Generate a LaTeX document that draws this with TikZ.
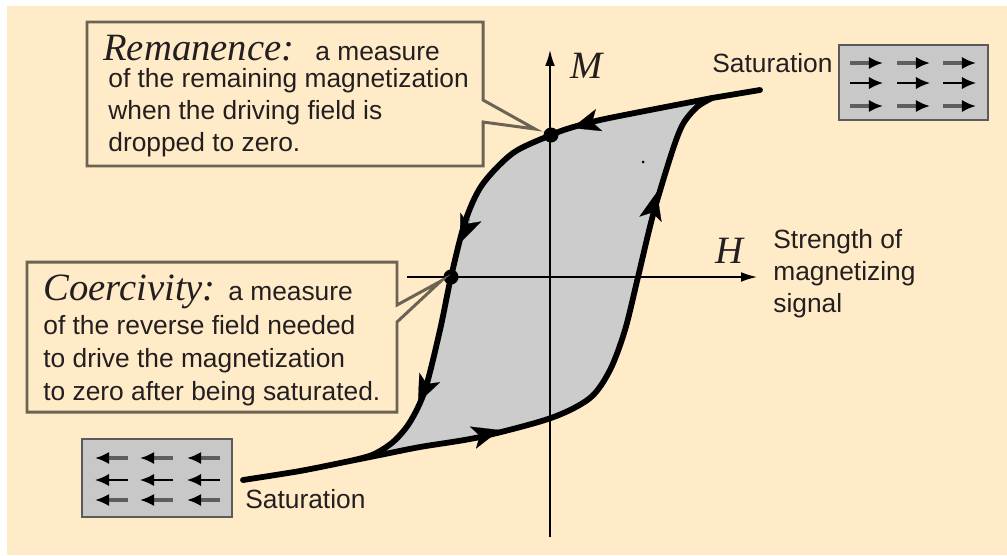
\documentclass[tikz,border=0pt]{standalone}
\usepackage{fontspec}
\setmainfont{Liberation Serif}
\setsansfont{Liberation Sans}
\definecolor{bgcream}{HTML}{FFEBC8}
\definecolor{boxline}{HTML}{6B6354}
\definecolor{loopgray}{HTML}{CCCCCC}
\definecolor{satfill}{HTML}{C8C8C8}
\definecolor{satline}{HTML}{5A5A5A}
\definecolor{satshaft}{HTML}{5E5E5E}
\definecolor{txt}{HTML}{231F20}
\usetikzlibrary{arrows.meta}
\newcommand{\lblfont}{\fontsize{15}{18}\selectfont\sffamily}
\newcommand{\termfont}{\fontsize{22}{26}\selectfont\rmfamily\itshape}

\begin{document}
\begin{tikzpicture}[
  x=0.02cm, y=-0.02cm,
  calltxt/.style={anchor=base west, inner sep=0pt, font=\lblfont, text=txt},
  termtxt/.style={anchor=base west, inner sep=0pt, font=\termfont, text=txt},
  callout/.style={draw=boxline, fill=bgcream, line width=1.7pt, line join=miter},
  satbox/.style={draw=satline, fill=satfill, line width=1.6pt},
  satgray/.style={draw=satshaft, line width=2pt, -{Latex[length=8pt,width=7pt,color=black]}},
  satblack/.style={draw=black, line width=1.1pt, -{Latex[length=8pt,width=7pt,color=black]}},
  loopline/.style={line width=3.3pt, line join=round, line cap=round},
  looptip/.style={line width=0.1pt, -{Stealth[length=16pt,width=13pt,inset=4pt]}},
  axis/.style={line width=0.9pt, -{Latex[length=9pt,width=5.5pt]}},
  pt/.style={circle, fill=black, inner sep=0pt, minimum size=0.3cm},
]
  % frame
  \useasboundingbox (0,0) rectangle (1007,555);
  \fill[white] (0,0) rectangle (1007,555);
  \fill[bgcream] (7,6) rectangle (1007,555);

  % hysteresis loop
  \filldraw[loopline, fill=loopgray]
    plot[smooth] coordinates {(712,98) (650,110) (600,120) (570,128) (551,135)
      (513,153) (482,185) (465,222) (451,277) (440,330) (425,390) (410,422)
      (393,442) (372,455) (345,462)}
    -- plot[smooth] coordinates {(345,462) (380,455) (420,447) (480,437)
      (551,418) (590,398) (610,370) (625,330) (638,277) (653,215) (672,152)
      (683,124) (697,107) (712,98)} -- cycle;
  \draw[loopline] (712,98) -- (760,90);
  \draw[loopline] plot[smooth] coordinates {(243,480) (300,471) (345,462)};
  \fill (643,162) circle (0.03cm);

  % axes
  \coordinate (Hstart) at (407,277);
  \coordinate (Hend) at (757,277);
  \coordinate (Mstart) at (550,537);
  \coordinate (Mend) at (550,50);
  \draw[axis] (Hstart) -- (Hend);
  \draw[axis] (Mstart) -- (Mend);
  \node[termtxt] (Mlbl) at (570,78) {M};
  \node[termtxt] (Hlbl) at (715,263) {H};

  % direction tips
  \draw[looptip] (596,121) -- (572,128);
  \draw[looptip] (470,219) -- (460,243);
  \draw[looptip] (429,379) -- (418,403);
  \draw[looptip] (475,437) -- (500,430);
  \draw[looptip] (651,217) -- (657,192);

  % marked points
  \node[pt] (rem) at (551,135) {};
  \node[pt] (coer) at (451,277) {};
  \coordinate (remtip) at (535,129);
  \coordinate (coertip) at (441,281);

  % remanence callout
  \draw[callout] (87,22) -- (483,22) -- (483,100) -- (remtip) -- (483,122)
    -- (483,166) -- (87,166) -- cycle;
  \node[termtxt] (remterm) at (103,60) {Remanence:};
  \node[calltxt] (remhead) at (315,60) {a measure};
  \foreach \ln/\y [count=\i] in {of the remaining magnetization/87,
      when the driving field is/119, dropped to zero./151}{
    \node[calltxt] (rem\i) at (108,\y) {\ln};
  }

  % coercivity callout
  \draw[callout] (27,262) -- (397,262) -- (397,305) -- (coertip) -- (397,322)
    -- (397,412) -- (27,412) -- cycle;
  \node[termtxt] (coerterm) at (43,300) {Coercivity:};
  \node[calltxt] (coerhead) at (228,300) {a measure};
  \foreach \ln/\y [count=\i] in {of the reverse field needed/334,
      to drive the magnetization/367, to zero after being saturated./400}{
    \node[calltxt] (coer\i) at (43,\y) {\ln};
  }

  % saturation states
  \draw[satbox] (839,45) rectangle (988,120);
  \foreach \y/\sty in {63/satgray, 83/satblack, 106/satgray}{
    \foreach \x in {850,897,943}{
      \draw[\sty] (\x,\y) -- ++(33,0);
    }
  }
  \node[calltxt] (satR) at (712,72) {Saturation};

  \draw[satbox] (82,439) rectangle (232,517);
  \foreach \y/\sty in {458/satgray, 480/satblack, 500/satgray}{
    \foreach \x in {128,173,220}{
      \draw[\sty] (\x,\y) -- ++(-33,0);
    }
  }
  \node[calltxt] (satL) at (245,508) {Saturation};

  % axis caption
  \foreach \ln/\y [count=\i] in {Strength of/248, magnetizing/280, signal/312}{
    \node[calltxt] (hcap\i) at (773,\y) {\ln};
  }
\end{tikzpicture}
\end{document}
